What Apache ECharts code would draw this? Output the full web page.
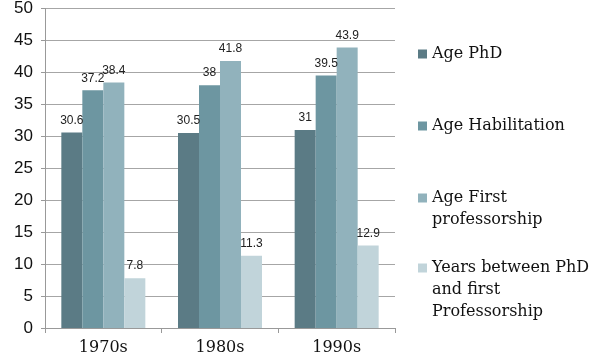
<!DOCTYPE html>
<html><head><meta charset="utf-8">
<script src="https://cdn.jsdelivr.net/npm/echarts@6/dist/echarts.min.js"></script>
<style>html,body{margin:0;padding:0;background:#fff}#c{width:600px;height:362px}</style>
</head><body><div id="c"></div>
<script>
const categories = ['1970s', '1980s', '1990s'];
const seriesNames = ['Age PhD', 'Age Habilitation', 'Age First\nprofessorship', 'Years between PhD\nand first\nProfessorship'];
const agePhD = [30.6, 30.5, 31];
const ageHabilitation = [37.2, 38, 39.5];
const ageFirstProf = [38.4, 41.8, 43.9];
const yearsBetween = [7.8, 11.3, 12.9];
const yTicks = {min: 0, max: 50, interval: 5};

const values = [agePhD, ageHabilitation, ageFirstProf, yearsBetween];
const colors = ['#5b7b85', '#6d96a1', '#91b2bc', '#c1d4da'];
const legendTops = [54, 126, 198, 268];
const LH = 22;

const chart = echarts.init(document.getElementById('c'));
const legends = seriesNames.map((n, i) => {
  const lines = n.split('\n').length;
  const H = (2 * lines - 1) * LH;
  return {
    data: [n], orient: 'vertical', left: 413, top: legendTops[i] - 5 - H / 2,
    itemWidth: 9, itemHeight: 9, itemGap: 0, icon: 'rect',
    selectedMode: false,
    formatter: (name) => '\n'.repeat(lines - 1) + name,
    textStyle: {fontFamily: 'DejaVu Serif', fontSize: 16, color: '#111', lineHeight: LH}
  };
});
chart.setOption({
  animation: false,
  grid: {left: 45, right: 205, top: 8, bottom: 34},
  legend: legends,
  xAxis: {type: 'category', data: categories,
    axisLine: {lineStyle: {color: '#999', width: 1}},
    axisTick: {show: true, length: 5, lineStyle: {color: '#999'}},
    axisLabel: {fontFamily: 'DejaVu Serif', fontSize: 16, color: '#111', margin: 12}},
  yAxis: {type: 'value', min: yTicks.min, max: yTicks.max, interval: yTicks.interval,
    axisLine: {show: true, lineStyle: {color: '#999'}},
    axisTick: {show: true, length: 4, lineStyle: {color: '#999'}},
    splitLine: {lineStyle: {color: '#a6a6a6', width: 1}},
    axisLabel: {fontFamily: 'Liberation Sans', fontSize: 17, color: '#111', margin: 12}},
  series: values.map((v, i) => ({
    name: seriesNames[i], type: 'bar', data: v,
    barGap: '0%', barCategoryGap: '28%',
    itemStyle: {color: colors[i]},
    label: {show: true, position: 'top', fontFamily: 'Liberation Sans', fontSize: 12, color: '#222', distance: 6}
  }))
});
</script></body></html>
